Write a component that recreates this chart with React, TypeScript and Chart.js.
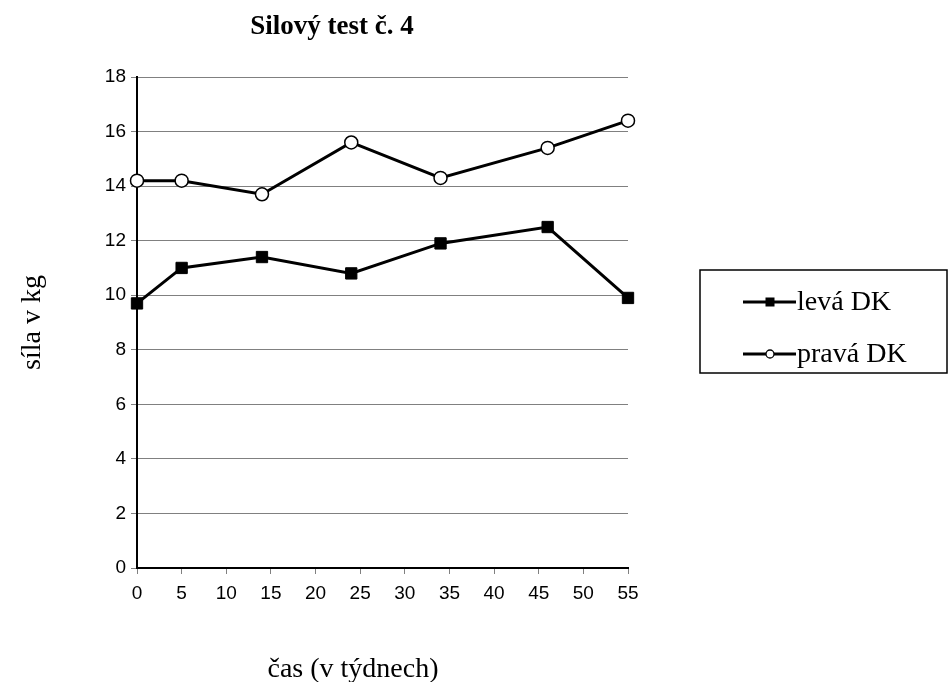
import React, { useEffect, useRef } from "react";
import { Chart, registerables } from "chart.js";

Chart.register(...registerables);

const TITLE = "Silový test č. 4";
const X_TITLE = "čas (v týdnech)";
const Y_TITLE = "síla v kg";
const WEEKS = [0, 5, 14, 24, 34, 46, 55];
const LEVA = [9.7, 11.0, 11.4, 10.8, 11.9, 12.5, 9.9];
const PRAVA = [14.2, 14.2, 13.7, 15.6, 14.3, 15.4, 16.4];
const SERIES_LABELS = ["levá DK", "pravá DK"];

const SERIF = "'Liberation Serif', 'Times New Roman', serif";
const SANS = "'Liberation Sans', Arial, sans-serif";

const decorPlugin = {
  id: "decor",
  afterDraw(chart: any) {
    const ctx = chart.ctx;
    ctx.save();
    ctx.fillStyle = "#000";
    // Title
    ctx.font = `bold 27px ${SERIF}`;
    ctx.textAlign = "center";
    ctx.textBaseline = "alphabetic";
    ctx.fillText(TITLE, 332, 34);
    // X title
    ctx.font = `28px ${SERIF}`;
    ctx.fillText(X_TITLE, 353, 677);

    // Legend
    const bx = 700, by = 270, bw = 247, bh = 103;
    ctx.strokeStyle = "#000";
    ctx.lineWidth = 1.5;
    ctx.strokeRect(bx, by, bw, bh);
    const rows = [302, 354];
    chart.data.datasets.forEach((ds: any, i: number) => {
      const y = rows[i];
      ctx.beginPath();
      ctx.strokeStyle = "#000";
      ctx.lineWidth = 3;
      ctx.moveTo(743, y);
      ctx.lineTo(796, y);
      ctx.stroke();
      if (ds.pointStyle === "rect") {
        ctx.fillStyle = "#000";
        ctx.fillRect(770 - 4.5, y - 4.5, 9, 9);
      } else {
        ctx.beginPath();
        ctx.arc(770, y, 4, 0, Math.PI * 2);
        ctx.fillStyle = "#fff";
        ctx.fill();
        ctx.lineWidth = 1.3;
        ctx.strokeStyle = "#000";
        ctx.stroke();
      }
      ctx.fillStyle = "#000";
      ctx.font = `28px ${SERIF}`;
      ctx.textAlign = "left";
      ctx.textBaseline = "alphabetic";
      ctx.fillText(ds.label, 797, y + 8);
    });
    ctx.restore();
  },
};

export default function App() {
  const ref = useRef<HTMLCanvasElement>(null);
  useEffect(() => {
    if (!ref.current) return;
    const chart = new Chart(ref.current, {
      type: "scatter",
      data: {
        datasets: [
          {
            label: SERIES_LABELS[0],
            data: WEEKS.map((x, i) => ({ x, y: LEVA[i] })),
            showLine: true,
            borderColor: "#000",
            backgroundColor: "#000",
            borderWidth: 3,
            pointStyle: "rect",
            pointRadius: 8,
            pointBorderWidth: 1,
            pointBackgroundColor: "#000",
            pointBorderColor: "#000",
            tension: 0,
            clip: false,
          },
          {
            label: SERIES_LABELS[1],
            data: WEEKS.map((x, i) => ({ x, y: PRAVA[i] })),
            showLine: true,
            borderColor: "#000",
            backgroundColor: "#fff",
            borderWidth: 3,
            pointStyle: "circle",
            pointRadius: 6.5,
            pointBorderWidth: 1.5,
            pointBackgroundColor: "#fff",
            pointBorderColor: "#000",
            tension: 0,
            clip: false,
          },
        ],
      },
      options: {
        animation: false,
        responsive: false,
        devicePixelRatio: 1,
        layout: { padding: { top: 77, right: 322, left: 0, bottom: 0 } },
        plugins: {
          legend: { display: false },
          tooltip: { enabled: false },
          title: { display: false },
        },
        scales: {
          x: {
            type: "linear",
            min: 0,
            max: 55,
            ticks: {
              stepSize: 5,
              color: "#000",
              font: { family: SANS, size: 19 },
              padding: 8,
            },
            grid: {
              drawOnChartArea: false,
              drawTicks: true,
              tickLength: 6,
              color: "#808080",
            },
            border: { color: "#000", width: 2 },
            afterFit: (s: any) => {
              s.height = 114;
            },
          },
          y: {
            min: 0,
            max: 18,
            ticks: {
              stepSize: 2,
              color: "#000",
              font: { family: SANS, size: 19 },
              padding: 5,
            },
            grid: {
              color: "#808080",
              lineWidth: 1,
              drawTicks: true,
              tickLength: 6,
            },
            border: { color: "#000", width: 2 },
            title: {
              display: true,
              text: Y_TITLE,
              color: "#000",
              font: { family: SERIF, size: 28 },
              padding: { top: 16, bottom: 0 },
            },
            afterFit: (s: any) => {
              s.width = 137;
            },
          },
        },
      },
      plugins: [decorPlugin],
    });
    return () => chart.destroy();
  }, []);
  return (
    <div style={{ position: "absolute", left: 0, top: 0, width: 950, height: 682, background: "#fff" }}>
      <canvas ref={ref} width={950} height={682} />
    </div>
  );
}
